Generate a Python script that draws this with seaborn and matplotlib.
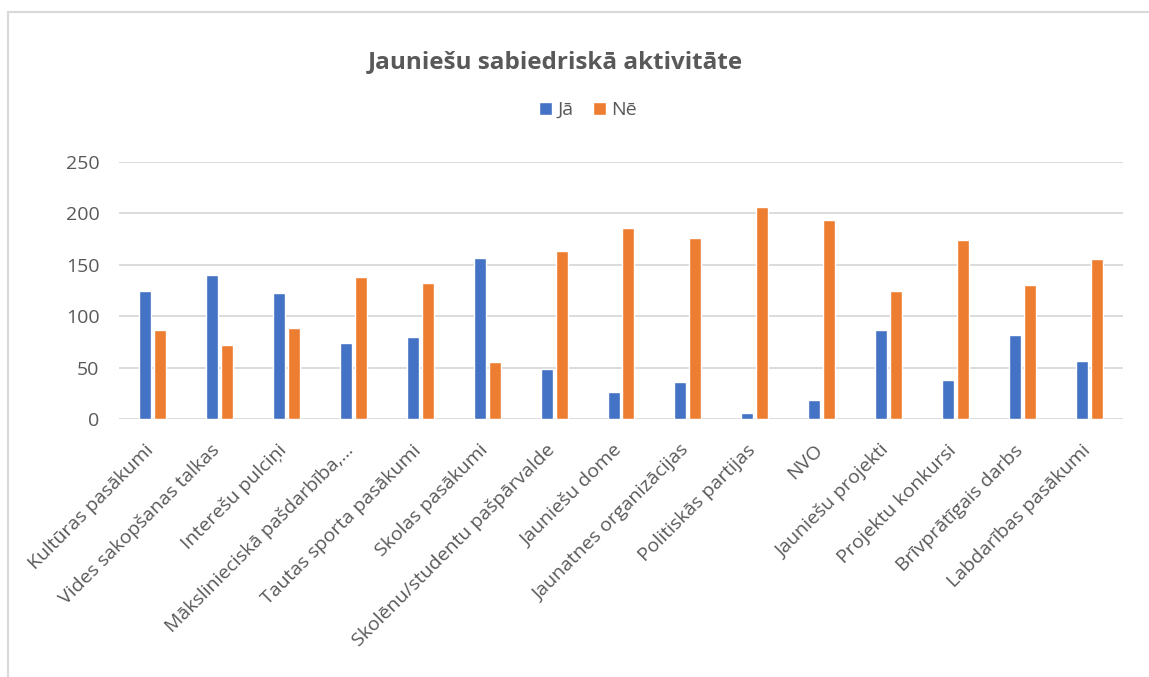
import matplotlib
matplotlib.use("Agg")
import matplotlib.pyplot as plt
import matplotlib.transforms as mtransforms
import seaborn as sns
import pandas as pd
from matplotlib.patches import Rectangle

categories = [
    "Kultūras pasākumi", "Vides sakopšanas talkas", "Interešu pulciņi",
    "Mākslinieciskā pašdarbība,…", "Tautas sporta pasākumi", "Skolas pasākumi",
    "Skolēnu/studentu pašpārvalde", "Jauniešu dome", "Jaunatnes organizācijas",
    "Politiskās partijas", "NVO", "Jauniešu projekti", "Projektu konkursi",
    "Brīvprātīgais darbs", "Labdarības pasākumi",
]
ja = [125, 140, 123, 74, 80, 157, 49, 26, 36, 6, 18, 87, 38, 82, 56]
ne = [87, 72, 89, 138, 132, 55, 163, 186, 176, 206, 194, 125, 174, 130, 156]
series_names = ["Jā", "Nē"]
title = "Jauniešu sabiedriskā aktivitāte"
yticks = [0, 50, 100, 150, 200, 250]

sns.set_theme(style="white")
plt.rcParams["font.family"] = ["Open Sans", "DejaVu Sans"]

df = pd.DataFrame({
    "Kategorija": categories * 2,
    "Vērtība": ja + ne,
    "Atbilde": [series_names[0]] * len(categories) + [series_names[1]] * len(categories),
})

W, H = 1149, 677
fig = plt.figure(figsize=(W / 100, H / 100), dpi=100)
fig.patch.set_facecolor("white")

# chart border (left and top visible)
fig.add_artist(Rectangle((7.5 / W, -0.1), 1.2, 1.1 - 11.5 / H, transform=fig.transFigure,
                         fill=False, edgecolor="#D9D9D9", linewidth=1.5))

left, right = 119 / W, 1123 / W
bottom, top = 1 - 419 / H, 1 - 162 / H
ax = fig.add_axes([left, bottom, right - left, top - bottom])

text_color = "#595959"
sns.barplot(data=df, x="Kategorija", y="Vērtība", hue="Atbilde",
            palette=["#4472C4", "#ED7D31"], width=0.448, gap=0.2,
            ax=ax, legend=True, saturation=1)

ax.set_ylim(0, 250)
ax.set_xlim(-0.5, len(categories) - 0.5)
ax.set_yticks(yticks)
ax.set_yticklabels([str(v) for v in yticks], color=text_color, fontsize=14)
ax.yaxis.grid(True, color="#D9D9D9", linewidth=1.3)
ax.set_axisbelow(True)
for s in ax.spines.values():
    s.set_visible(False)
ax.set_xlabel("")
ax.set_ylabel("")
ax.tick_params(axis="y", length=0, pad=14)
ax.tick_params(axis="x", length=0, pad=16)
ax.set_xticks(range(len(categories)))
ax.set_xticklabels(categories, rotation=45, ha="right", rotation_mode="anchor",
                   color=text_color, fontsize=14)
offset = mtransforms.ScaledTranslation(-6 / 72, 0, fig.dpi_scale_trans)
for lbl in ax.get_xticklabels():
    lbl.set_transform(lbl.get_transform() + offset)

handles, labels = ax.get_legend_handles_labels()
ax.get_legend().remove()
fig.legend(handles, labels, loc="center", bbox_to_anchor=(588 / W, 1 - 110 / H),
           ncol=2, frameon=False, fontsize=14, labelcolor=text_color,
           handlelength=0.65, handleheight=0.65, handletextpad=0.3, columnspacing=1.0)

fig.text(555 / W, 1 - 62 / H, title, ha="center", va="center",
         fontsize=17.5, fontweight="bold", color=text_color)

fig.savefig("out.png", dpi=100, facecolor="white")
